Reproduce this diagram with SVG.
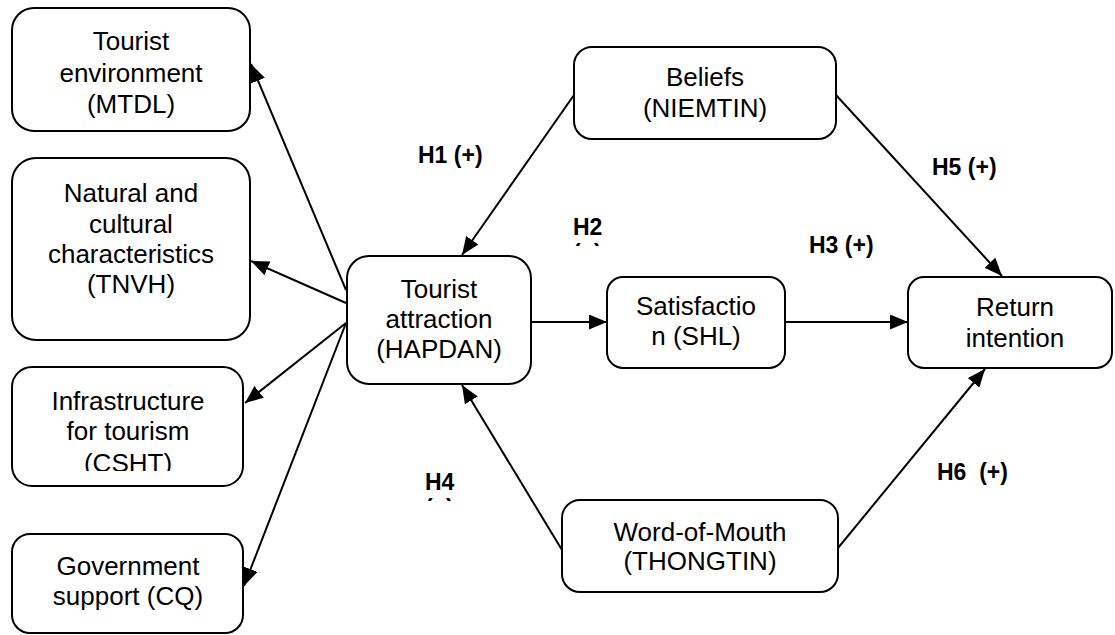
<svg xmlns="http://www.w3.org/2000/svg" width="1115" height="635" viewBox="0 0 1115 635">
<style>
.box{fill:#fff;stroke:#000;stroke-width:2}
.t{font-family:"Liberation Sans",Arial,sans-serif;font-size:26px;fill:#000;text-anchor:middle}
.h{font-family:"Liberation Sans",Arial,sans-serif;font-size:23px;font-weight:bold;fill:#000}
.c{stroke:#000;stroke-width:2;fill:none;marker-end:url(#ah)}
</style>
<defs>
<marker id="ah" markerUnits="userSpaceOnUse" markerWidth="19" markerHeight="15" refX="18" refY="7.5" orient="auto">
<path d="M0,0 L18,7.5 L0,15 Z" fill="#000"/>
</marker>
<clipPath id="clipH2"><rect x="560" y="200" width="60" height="46"/></clipPath>
<clipPath id="clipH4"><rect x="410" y="460" width="60" height="41"/></clipPath>
<clipPath id="clipCSHT"><rect x="12" y="367" width="232" height="104"/></clipPath>
</defs>
<rect width="1115" height="635" fill="#fff"/>
<g id="connectors">
<line class="c" x1="346" y1="290" x2="251" y2="64"/>
<line class="c" x1="346" y1="303" x2="251" y2="261"/>
<line class="c" x1="346" y1="323" x2="245" y2="403"/>
<line class="c" x1="346" y1="323" x2="244" y2="586"/>
<line class="c" x1="574" y1="95" x2="462" y2="255"/>
<line class="c" x1="836" y1="95" x2="1002" y2="276"/>
<line class="c" x1="531" y1="322" x2="607" y2="322"/>
<line class="c" x1="785" y1="322" x2="908" y2="322"/>
<line class="c" x1="562" y1="550" x2="462" y2="385"/>
<line class="c" x1="838" y1="548" x2="985" y2="369"/>
</g>
<g id="labels">
<text class="h" x="418" y="163">H1 (+)</text>
<g clip-path="url(#clipH2)"><text class="h" x="573" y="235">H2</text><text class="h" x="573" y="261">(+)</text></g>
<text class="h" x="809" y="253">H3 (+)</text>
<g clip-path="url(#clipH4)"><text class="h" x="425" y="490">H4</text><text class="h" x="425" y="516">(+)</text></g>
<text class="h" x="932" y="175">H5 (+)</text>
<text class="h" x="937" y="480" xml:space="preserve">H6  (+)</text>
</g>
<g id="n-mtdl">
<rect class="box" x="12" y="8" width="238" height="123" rx="22"/>
<text class="t" x="131" y="50">Tourist</text>
<text class="t" x="131" y="82">environment</text>
<text class="t" x="131" y="113">(MTDL)</text>
</g>
<g id="n-tnvh">
<rect class="box" x="12" y="158" width="238" height="182" rx="24"/>
<text class="t" x="131" y="202">Natural and</text>
<text class="t" x="131" y="233">cultural</text>
<text class="t" x="131" y="263">characteristics</text>
<text class="t" x="131" y="293">(TNVH)</text>
</g>
<g id="n-csht">
<rect class="box" x="12" y="367" width="231" height="119" rx="20"/>
<text class="t" x="128" y="410">Infrastructure</text>
<text class="t" x="128" y="440">for tourism</text>
<text class="t" x="128" y="472" clip-path="url(#clipCSHT)">(CSHT)</text>
</g>
<g id="n-cq">
<rect class="box" x="12" y="534" width="231" height="99" rx="18"/>
<text class="t" x="128" y="575">Government</text>
<text class="t" x="128" y="605">support (CQ)</text>
</g>
<g id="n-hapdan">
<rect class="box" x="347" y="256" width="184" height="128" rx="22"/>
<text class="t" x="439" y="298">Tourist</text>
<text class="t" x="439" y="328">attraction</text>
<text class="t" x="439" y="358">(HAPDAN)</text>
</g>
<g id="n-niemtin">
<rect class="box" x="574" y="47" width="262" height="92" rx="18"/>
<text class="t" x="705" y="86">Beliefs</text>
<text class="t" x="705" y="117">(NIEMTIN)</text>
</g>
<g id="n-shl">
<rect class="box" x="607" y="277" width="178" height="91" rx="16"/>
<text class="t" x="696" y="315">Satisfactio</text>
<text class="t" x="696" y="345">n (SHL)</text>
</g>
<g id="n-return">
<rect class="box" x="908" y="277" width="204" height="91" rx="16"/>
<text class="t" x="1015" y="316">Return</text>
<text class="t" x="1015" y="347">intention</text>
</g>
<g id="n-thongtin">
<rect class="box" x="562" y="500" width="276" height="92" rx="18"/>
<text class="t" x="700" y="541">Word-of-Mouth</text>
<text class="t" x="700" y="570">(THONGTIN)</text>
</g>
</svg>
